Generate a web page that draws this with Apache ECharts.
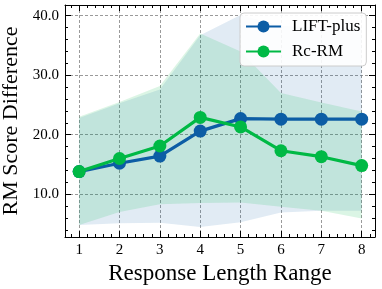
<!DOCTYPE html>
<html><head><meta charset="utf-8">
<script src="https://cdn.jsdelivr.net/npm/echarts@6/dist/echarts.min.js"></script>
<style>html,body{margin:0;padding:0;background:#fff}#c{width:382px;height:289px}</style>
</head><body><div id="c"></div>
<script>
const xs = [1, 2, 3, 4, 5, 6, 7, 8];
const liftMean = [13.8, 15.2, 16.4, 20.6, 22.7, 22.6, 22.6, 22.6];
const liftLow  = [4.8, 5.1, 5.2, 4.5, 5.3, 6.9, 7.2, 7.2];
const liftHigh = [22.8, 25.3, 27.6, 36.7, 40.1, 38.3, 38.0, 38.0];
const rcMean = [13.8, 16.0, 18.1, 22.9, 21.3, 17.3, 16.3, 14.8];
const rcLow  = [4.8, 7.0, 8.3, 8.5, 8.6, 7.9, 7.2, 5.9];
const rcHigh = [23.0, 25.5, 28.2, 37.0, 34.0, 27.0, 25.4, 23.9];
const yMajor = [10, 20, 30, 40];
const yMinor = [4, 6, 8, 12, 14, 16, 18, 22, 24, 26, 28, 32, 34, 36, 38];
const xMinor = [];
for (let v = 0.8; v < 8.35; v += 0.2) { const r = Math.round(v * 10) / 10; if (Math.abs(r - Math.round(r)) > 1e-6) xMinor.push(r); }

const FONT = 'Liberation Serif';
const XMIN = 0.65, XMAX = 8.33, YMIN = 2.8, YMAX = 41.8;
const pairs = (a) => xs.map((x, i) => [x, a[i]]);

function xAx(pos, major, showLabel, extra) {
  return Object.assign({
    type: 'value', min: XMIN, max: XMAX, position: pos,
    axisLine: { show: major, onZero: false, lineStyle: { color: '#000', width: 1 } },
    axisTick: { show: true, inside: true, length: major ? 6 : 3, customValues: major ? xs : xMinor, lineStyle: { color: '#000', width: 1 } },
    axisLabel: { show: showLabel, customValues: xs, color: '#000', fontFamily: FONT, fontSize: 15, margin: 6 },
    splitLine: { show: false }
  }, extra || {});
}
function yAx(pos, major, showLabel, extra) {
  return Object.assign({
    type: 'value', min: YMIN, max: YMAX, position: pos,
    axisLine: { show: major, onZero: false, lineStyle: { color: '#000', width: 1 } },
    axisTick: { show: true, inside: true, length: major ? 6 : 3, customValues: major ? yMajor : yMinor, lineStyle: { color: '#000', width: 1 } },
    axisLabel: { show: showLabel, customValues: yMajor, color: '#000', fontFamily: FONT, fontSize: 15, margin: 6, formatter: v => v.toFixed(1) },
    splitLine: { show: false }
  }, extra || {});
}
const dash = { show: true, lineStyle: { color: '#808080', width: 0.8, type: [3, 2] } };

function bandSeries(name, lo, hi, color) {
  return {
    name: name, type: 'custom', silent: true, z: 1,
    data: xs.map((x, i) => [x, lo[i], hi[i]]),
    encode: { x: 0, y: [1, 2] },
    renderItem: function (params, api) {
      if (params.dataIndex !== 0) return null;
      const top = xs.map((x, i) => api.coord([x, hi[i]]));
      const bot = xs.map((x, i) => api.coord([x, lo[i]])).reverse();
      return { type: 'polygon', shape: { points: top.concat(bot) }, style: { fill: color, stroke: null } };
    }
  };
}

const chart = echarts.init(document.getElementById('c'), null, { renderer: 'canvas' });
chart.setOption({
  animation: false,
  grid: { left: 65, top: 5, right: 7, bottom: 52, containLabel: false, outerBoundsMode: 'none' },
  xAxis: [
    xAx('bottom', true, true, { name: 'Response Length Range', nameLocation: 'middle', nameGap: 21,
      nameTextStyle: { fontFamily: FONT, fontSize: 23, color: '#000' },
      splitLine: Object.assign({ customValues: xs }, dash) }),
    xAx('bottom', false, false),
    xAx('top', true, false),
    xAx('top', false, false)
  ],
  yAxis: [
    yAx('left', true, true, { name: 'RM Score Difference', nameLocation: 'middle', nameGap: 38, nameRotate: 90,
      nameTextStyle: { fontFamily: FONT, fontSize: 22, color: '#000' },
      splitLine: Object.assign({ customValues: yMajor }, dash) }),
    yAx('left', false, false),
    yAx('right', true, false),
    yAx('right', false, false)
  ],
  legend: {
    data: ['LIFT-plus', 'Rc-RM'], orient: 'vertical', left: 240, top: 13,
    itemWidth: 35, itemHeight: 15, itemGap: 8, padding: [5, 6, 6, 5],
    backgroundColor: 'rgba(255,255,255,0.9)', borderColor: '#cccccc', borderWidth: 1, borderRadius: 4,
    textStyle: { fontFamily: FONT, fontSize: 17, color: '#000', padding: [0, 0, 0, 6] }
  },
  series: [
    bandSeries('liftBand', liftLow, liftHigh, 'rgba(12,93,165,0.12)'),
    bandSeries('rcBand', rcLow, rcHigh, 'rgba(0,185,69,0.14)'),
    { name: 'LIFT-plus', type: 'line', data: pairs(liftMean), symbol: 'circle', symbolSize: 13,
      itemStyle: { color: '#0C5DA5' }, lineStyle: { color: '#0C5DA5', width: 3.2 }, z: 3 },
    { name: 'Rc-RM', type: 'line', data: pairs(rcMean), symbol: 'circle', symbolSize: 13,
      itemStyle: { color: '#00B945' }, lineStyle: { color: '#00B945', width: 3.2 }, z: 4 }
  ]
});
</script></body></html>
